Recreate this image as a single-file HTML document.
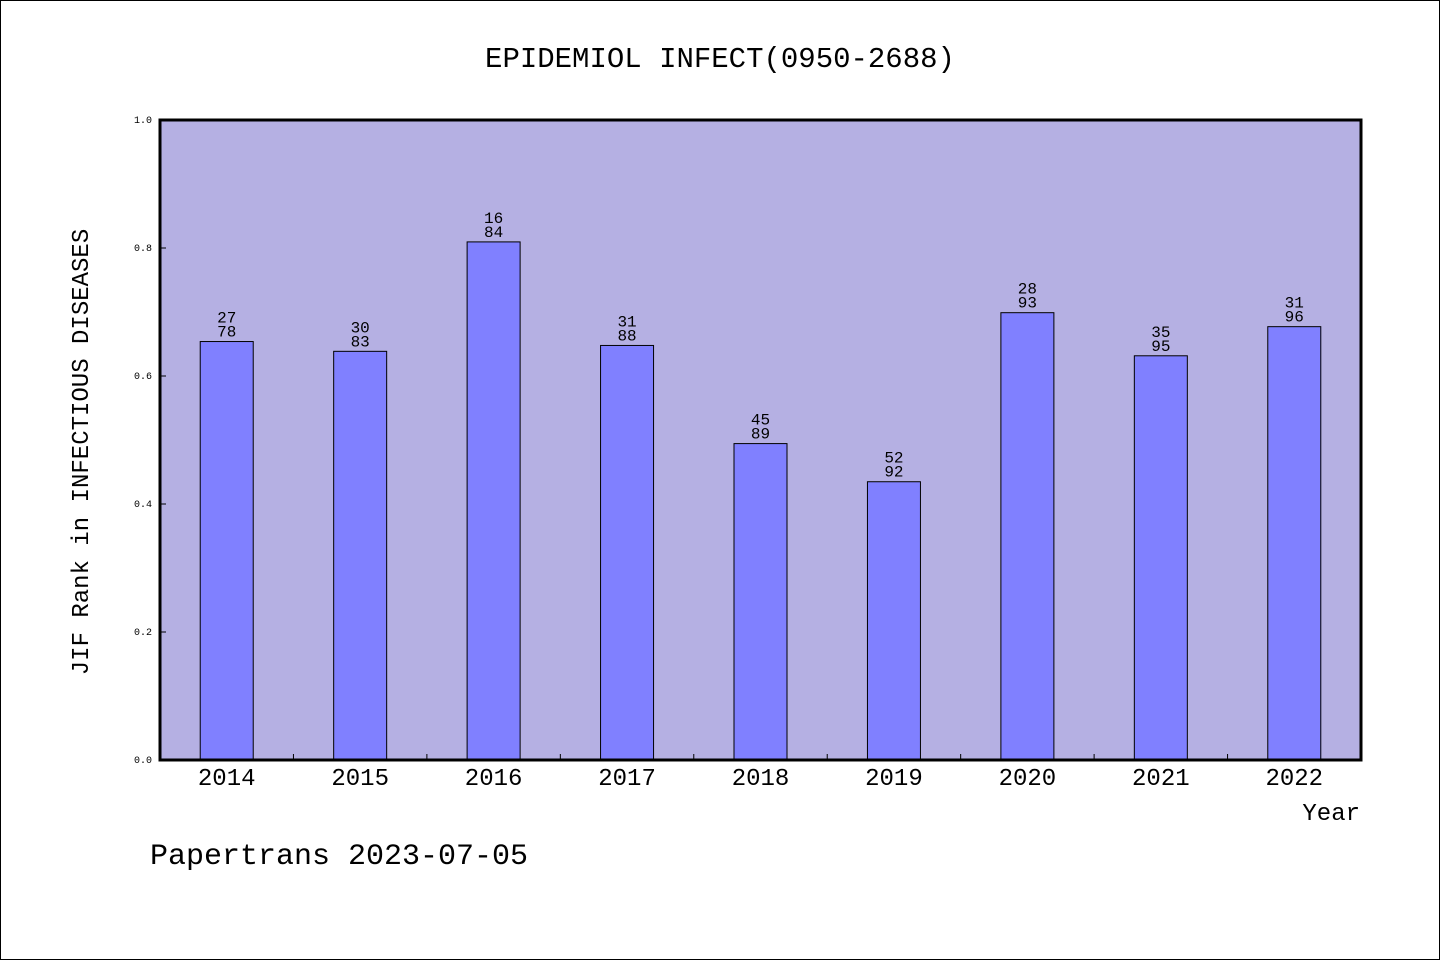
<!DOCTYPE html>
<html><head><meta charset="utf-8"><style>
html,body{margin:0;padding:0;background:#fff;}
svg{display:block;font-family:"Liberation Mono","WenQuanYi Zen Hei",monospace;}
</style></head><body>
<svg id="c" width="1440" height="960" viewBox="0 0 1440 960" xmlns="http://www.w3.org/2000/svg">
<rect x="0.5" y="0.5" width="1439" height="959" fill="#fff" stroke="#000"/>
<text x="720" y="67" text-anchor="middle" font-size="29">EPIDEMIOL INFECT(0950-2688)</text>
<rect x="160" y="120" width="1201" height="640" fill="#b5b0e3"/>
<g id="bars"></g>
<g id="axes"></g>
<rect x="160" y="120" width="1201" height="640" fill="none" stroke="#000" stroke-width="3"/>
<text transform="translate(88,452) rotate(-90)" text-anchor="middle" font-size="24">JIF Rank in INFECTIOUS DISEASES</text>
<text x="1360" y="820" text-anchor="end" font-size="24">Year</text>
<text x="150" y="864" font-size="30">Papertrans 2023-07-05</text>
</svg>
<script>
const years = ["2014","2015","2016","2017","2018","2019","2020","2021","2022"];
const ranks = [27,30,16,31,45,52,28,35,31];
const totals = [78,83,84,88,89,92,93,95,96];
const yTicks = ["0.0","0.2","0.4","0.6","0.8","1.0"];

const X0=160,X1=1361,Y0=760,Y1=120;
const band=(X1-X0)/years.length;
const xc=i=>X0+band*(i+0.5);
const y=v=>Y0-(Y0-Y1)*v;
const NS="http://www.w3.org/2000/svg";
const bars=document.getElementById('bars'), axes=document.getElementById('axes');
function mk(tag,attrs,parent,txt){const e=document.createElementNS(NS,tag);for(const k in attrs)e.setAttribute(k,attrs[k]);if(txt!==undefined)e.textContent=txt;parent.appendChild(e);return e;}

years.forEach((yr,i)=>{
  const v=(totals[i]-ranks[i])/totals[i];
  const bw=53;
  const r=mk('rect',{x:xc(i)-bw/2,y:y(v),width:bw,height:Y0-y(v),fill:'#8080ff',stroke:'#000','stroke-width':1},bars);
  
  
  const t1=mk('text',{x:xc(i),y:y(v)-19,'text-anchor':'middle','font-size':16},bars,String(ranks[i]));
  
  
  const t2=mk('text',{x:xc(i),y:y(v)-5,'text-anchor':'middle','font-size':16},bars,String(totals[i]));
  
  
  const xl=mk('text',{x:xc(i),y:785,'text-anchor':'middle','font-size':24},axes,yr);
  
  
  if(i>0){
    const tk=mk('line',{x1:X0+band*i,x2:X0+band*i,y1:Y0,y2:Y0-6,stroke:'#000','stroke-width':1},axes);
    
    
  }
});
yTicks.forEach(l=>{
  const v=parseFloat(l);
  const t=mk('text',{x:152,y:y(v)+3,'text-anchor':'end','font-size':10},axes,l);
  
  
  const tk=mk('line',{x1:X0,x2:X0+6,y1:y(v),y2:y(v),stroke:'#000','stroke-width':1},axes);
  
  
});
</script>
</body></html>
